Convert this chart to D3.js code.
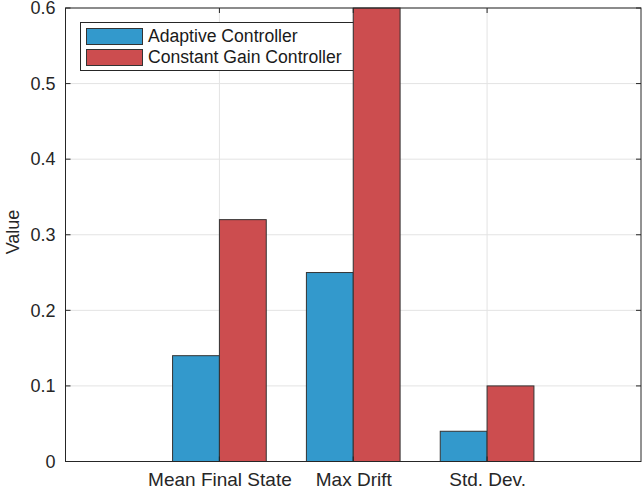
<!DOCTYPE html>
<html><head><meta charset="utf-8">
<script src="https://cdn.jsdelivr.net/npm/d3@7"></script>
<style>body{margin:0;background:#fff}svg{display:block}text{font-family:"Liberation Sans",Arial,sans-serif}</style>
</head><body>
<script>
const categories = ["Mean Final State", "Max Drift", "Std. Dev."];
const adaptive = [0.14, 0.25, 0.04];
const constantGain = [0.32, 0.60, 0.10];
const seriesNames = ["Adaptive Controller", "Constant Gain Controller"];
const seriesColors = ["#3399CC", "#CC4D4F"];
const yTicks = [0, 0.1, 0.2, 0.3, 0.4, 0.5, 0.6];

const W = 644, H = 490;
const L = 65.5, R = 641, T = 8, B = 461.5;
const svg = d3.select("body").append("svg").attr("width", W).attr("height", H);

const x = d3.scaleLinear().domain([-0.15, 4.15]).range([L, R]);
const y = d3.scaleLinear().domain([0, 0.6]).range([B, T]);
const barW = 0.35;

// grid
const g = svg.append("g");
g.selectAll(".yg").data(yTicks).join("line")
  .attr("x1", L).attr("x2", R).attr("y1", d => y(d)).attr("y2", d => y(d))
  .attr("stroke", "#e3e3e3").attr("stroke-width", 1);
g.selectAll(".xg").data(categories.map((c, i) => i + 1)).join("line")
  .attr("x1", d => x(d)).attr("x2", d => x(d)).attr("y1", T).attr("y2", B)
  .attr("stroke", "#e3e3e3").attr("stroke-width", 1);

// legend (behind bars)
const leg = svg.append("g");
leg.append("rect").attr("x", 80.5).attr("y", 22.5).attr("width", 273.5).attr("height", 48)
  .attr("fill", "#fff").attr("stroke", "#262626").attr("stroke-width", 1);
seriesNames.forEach((n, i) => {
  leg.append("rect").attr("x", 86.5).attr("y", 28.5 + i * 21).attr("width", 56).attr("height", 16)
    .attr("fill", seriesColors[i]).attr("stroke", "#333").attr("stroke-width", 1);
  leg.append("text").attr("x", 148).attr("y", 42 + i * 21).attr("font-size", 17.6)
    .attr("fill", "#1a1a1a").text(n);
});

// bars
const series = [adaptive, constantGain];
series.forEach((vals, s) => {
  svg.append("g").selectAll("rect").data(vals).join("rect")
    .attr("x", (d, i) => x(i + 1 + (s === 0 ? -barW : 0)))
    .attr("width", x(barW) - x(0))
    .attr("y", d => y(Math.min(d, 0.6)))
    .attr("height", d => y(0) - y(Math.min(d, 0.6)))
    .attr("fill", seriesColors[s]).attr("stroke", "#333").attr("stroke-width", 1);
});

// axes frame
svg.append("rect").attr("x", L).attr("y", T).attr("width", R - L).attr("height", B - T)
  .attr("fill", "none").attr("stroke", "#262626").attr("stroke-width", 1);

// ticks inside
yTicks.forEach(t => {
  svg.append("line").attr("x1", L).attr("x2", L + 5).attr("y1", y(t)).attr("y2", y(t)).attr("stroke", "#262626");
  svg.append("line").attr("x1", R - 5).attr("x2", R).attr("y1", y(t)).attr("y2", y(t)).attr("stroke", "#262626");
});
categories.forEach((c, i) => {
  svg.append("line").attr("x1", x(i + 1)).attr("x2", x(i + 1)).attr("y1", T).attr("y2", T + 5).attr("stroke", "#262626");
  svg.append("line").attr("x1", x(i + 1)).attr("x2", x(i + 1)).attr("y1", B - 5).attr("y2", B).attr("stroke", "#262626");
});

// y labels
const yAxis = d3.axisLeft(y).tickValues(yTicks).tickSize(0).tickPadding(10)
  .tickFormat(d => d === 0 ? "0" : d3.format(".1f")(d));
const ya = svg.append("g").attr("transform", `translate(${L},0)`).call(yAxis);
ya.select(".domain").remove();
ya.selectAll("text").attr("font-size", 18).attr("fill", "#262626").attr("font-family", '"Liberation Sans",Arial,sans-serif');

// x labels
const xAxis = d3.axisBottom(x).tickValues([1, 2, 3]).tickSize(0).tickPadding(11)
  .tickFormat(d => categories[d - 1]);
const xa = svg.append("g").attr("transform", `translate(0,${B})`).call(xAxis);
xa.select(".domain").remove();
xa.selectAll("text").attr("font-size", 19).attr("fill", "#262626").attr("font-family", '"Liberation Sans",Arial,sans-serif');

svg.append("text").attr("transform", `translate(19,232) rotate(-90)`)
  .attr("text-anchor", "middle").attr("font-size", 18).attr("fill", "#262626").text("Value");
</script>
</body></html>
